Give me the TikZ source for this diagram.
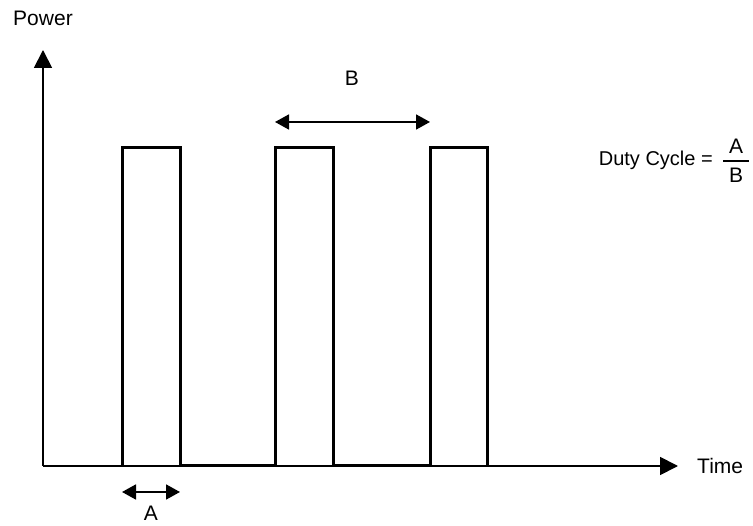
\documentclass[tikz,border=0pt]{standalone}
\usepackage{fontspec}
\setmainfont{Liberation Sans}
\usetikzlibrary{arrows.meta}

\begin{document}
\begin{tikzpicture}[
    x=1pt, y=-1pt,
    axis/.style={line width=1.8pt, -{Triangle[length=18pt, width=18pt]}},
    pulse/.style={line width=3pt, line join=miter},
    dimline/.style={line width=1.8pt,
      {Triangle[length=14pt, width=15pt]}-{Triangle[length=14pt, width=15pt]}},
    every node/.style={font=\fontsize{21}{25}\selectfont, inner sep=0pt},
  ]

  % Background / page size
  \useasboundingbox (0,0) rectangle (753,526);

  % === Axes ===
  \coordinate (origin) at (43,466);
  \coordinate (ytip) at (43,50);
  \coordinate (xtip) at (678,466);
  \draw[axis] (origin) -- (ytip);
  \draw[axis] (origin) -- (xtip);
  \node (power) at (43,18) {Power};
  \node[anchor=west] (time) at (697,466) {Time};

  % === Pulse train (rise / fall points) ===
  \foreach \n/\xa/\xb in {1/122/180, 2/275/333, 3/430/487} {
    \coordinate (rise\n) at (\xa,466);
    \coordinate (fall\n) at (\xb,466);
  }
  \draw[pulse] (rise1) -- ++(0,-318) -| (fall1) -- (rise2)
    -- ++(0,-318) -| (fall2) -- (rise3)
    -- ++(0,-318) -| (fall3);

  % === Period B ===
  \coordinate (bl) at (275,122);
  \coordinate (br) at (430,122);
  \draw[dimline] (bl) -- (br);
  \node (lblB) at (352,78) {B};

  % === Width A ===
  \coordinate (al) at (122,492);
  \coordinate (ar) at (180,492);
  \draw[dimline] (al) -- (ar);
  \node (lblA) at (151,513) {A};

  % === Duty cycle formula ===
  \node[anchor=east, font=\fontsize{20}{24}\selectfont] (duty) at (713,160)
    {Duty Cycle =};
  \node (num) at (736,146) {A};
  \node (den) at (736,175) {B};
  \draw[line width=1.8pt] (723,161) -- (749,161);

\end{tikzpicture}
\end{document}
